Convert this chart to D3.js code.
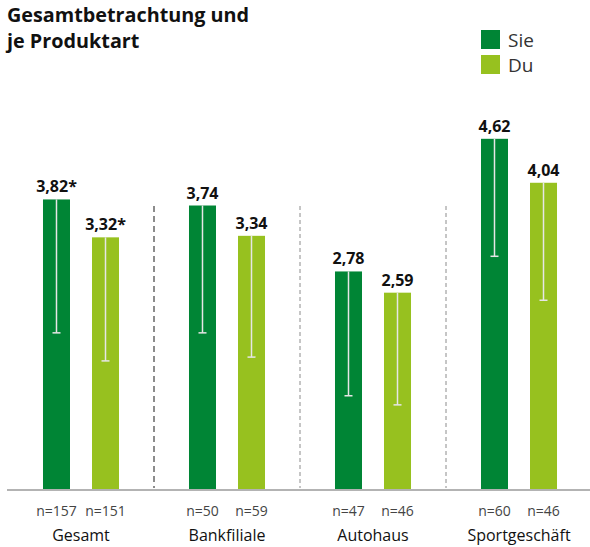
<!DOCTYPE html>
<html>
<head>
<meta charset="utf-8">
<script src="https://cdn.jsdelivr.net/npm/d3@7"></script>
<style>
  body { margin: 0; background: #fff; }
  svg text { font-family: "Open Sans", "Noto Sans", sans-serif; }
</style>
</head>
<body>
<div id="chart"></div>
<script>
// data (bar heights as drawn, labels as printed)
var categories = ["Gesamt", "Bankfiliale", "Autohaus", "Sportgeschäft"];
var series = ["Sie", "Du"];
var sieValues = [3.82, 3.74, 2.87, 4.62];
var duValues = [3.32, 3.34, 2.59, 4.04];
var sieLabels = ["3,82*", "3,74", "2,78", "4,62"];
var duLabels = ["3,32*", "3,34", "2,59", "4,04"];
var sieLower = [2.06, 2.06, 1.23, 3.07];
var duLower = [1.69, 1.74, 1.11, 2.49];
var sieN = [157, 50, 47, 60];
var duN = [151, 59, 46, 46];

var colors = { Sie: "#008535", Du: "#97c11f" };

var width = 590, height = 547;

var svg = d3.select("#chart")
  .append("svg")
    .attr("width", width)
    .attr("height", height);

// rows for the bars
var data = [];
for (var i = 0; i < categories.length; i++) {
  data.push({ cat: categories[i], s: "Sie", value: sieValues[i], low: sieLower[i], n: sieN[i], label: sieLabels[i] });
  data.push({ cat: categories[i], s: "Du", value: duValues[i], low: duLower[i], n: duN[i], label: duLabels[i] });
}

// scales
var x0 = d3.scaleBand()
  .domain(categories)
  .range([8, 592]);

var x1 = d3.scaleBand()
  .domain(series)
  .range([0, x0.bandwidth()])
  .paddingInner(0.449)
  .paddingOuter(0.714);

var y = d3.scaleLinear()
  .domain([0, 5])
  .range([489, 110]);

// title
var title = svg.append("text")
  .attr("x", 7)
  .attr("y", 22)
  .style("font-size", "19.8px")
  .style("font-weight", "bold")
  .style("fill", "#111");
title.append("tspan").attr("x", 7).text("Gesamtbetrachtung und");
title.append("tspan").attr("x", 7).attr("dy", 26).text("je Produktart");

// legend
var legend = svg.selectAll(".legend")
  .data(series)
  .enter()
  .append("g")
    .attr("class", "legend")
    .attr("transform", function(d, i) { return "translate(481," + (30 + i * 25) + ")"; });
legend.append("rect")
  .attr("width", 19)
  .attr("height", 19)
  .style("fill", function(d) { return colors[d]; });
legend.append("text")
  .attr("x", 27)
  .attr("y", 17)
  .style("font-size", "19px")
  .style("fill", "#333")
  .text(function(d) { return d; });

// dashed separators between groups
svg.selectAll(".sep")
  .data(categories.slice(1))
  .enter()
  .append("line")
    .attr("class", "sep")
    .attr("x1", function(d) { return x0(d); })
    .attr("x2", function(d) { return x0(d); })
    .attr("y1", 206)
    .attr("y2", 488)
    .style("stroke", "#8c8c8c")
    .style("stroke-width", function(d, i) { return i == 0 ? 2 : 1; })
    .style("stroke-dasharray", function(d, i) { return i == 0 ? "6,4" : "4,3"; });

// bars
var bar = svg.selectAll(".bar")
  .data(data)
  .enter()
  .append("g")
    .attr("class", "bar")
    .attr("transform", function(d) { return "translate(" + (x0(d.cat) + x1(d.s)) + ",0)"; });

bar.append("rect")
  .attr("y", function(d) { return y(d.value); })
  .attr("width", x1.bandwidth())
  .attr("height", function(d) { return y(0) - y(d.value); })
  .style("fill", function(d) { return colors[d.s]; });

// lower whisker
var cx = x1.bandwidth() / 2;
bar.append("line")
  .attr("x1", cx).attr("x2", cx)
  .attr("y1", function(d) { return y(d.value); })
  .attr("y2", function(d) { return y(d.low); })
  .style("stroke", "#e6e6e6")
  .style("stroke-width", 1.5);
bar.append("line")
  .attr("x1", cx - 4).attr("x2", cx + 4)
  .attr("y1", function(d) { return y(d.low); })
  .attr("y2", function(d) { return y(d.low); })
  .style("stroke", "#e6e6e6")
  .style("stroke-width", 1.5);

// value labels
bar.append("text")
  .attr("x", cx)
  .attr("y", function(d) { return y(d.value) - 7; })
  .attr("text-anchor", "middle")
  .style("font-size", "16px")
  .style("font-weight", "bold")
  .style("fill", "#111")
  .text(function(d) { return d.label; });

// n labels
bar.append("text")
  .attr("x", cx)
  .attr("y", 516)
  .attr("text-anchor", "middle")
  .style("font-size", "14px")
  .style("fill", "#444")
  .text(function(d) { return "n=" + d.n; });

// baseline
svg.append("line")
  .attr("x1", 7).attr("x2", 590)
  .attr("y1", y(0) + 1).attr("y2", y(0) + 1)
  .style("stroke", "#b3b3b3")
  .style("stroke-width", 2);

// category labels
svg.selectAll(".cat")
  .data(categories)
  .enter()
  .append("text")
    .attr("class", "cat")
    .attr("x", function(d) { return x0(d) + x0.bandwidth() / 2; })
    .attr("y", 541)
    .attr("text-anchor", "middle")
    .style("font-size", "16px")
    .style("fill", "#111")
    .text(function(d) { return d; });
</script>
</body>
</html>
